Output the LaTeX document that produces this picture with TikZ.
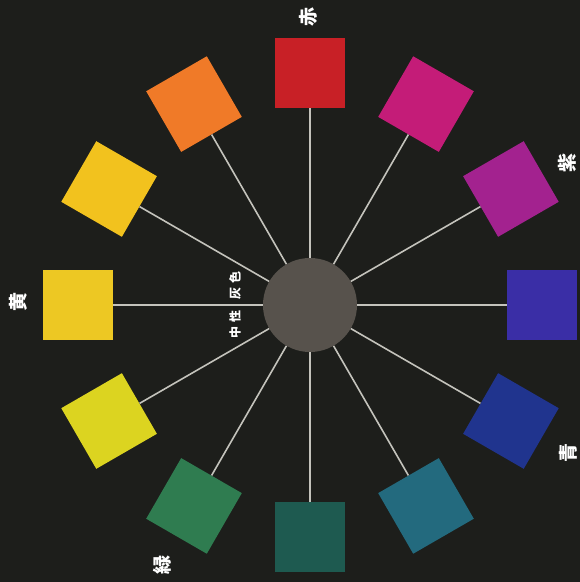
\documentclass[tikz,border=0pt]{standalone}
\usepackage{fontspec}
\newfontfamily\cjk{Noto Sans CJK JP}
\usetikzlibrary{positioning}

\definecolor{board}{HTML}{1D1E1B}
\definecolor{hubgray}{HTML}{57524C}
\definecolor{spokegray}{HTML}{C4C3BC}
\definecolor{cRed}{HTML}{C82026}
\definecolor{cMagenta}{HTML}{C41C78}
\definecolor{cPurple}{HTML}{A3228F}
\definecolor{cBlue}{HTML}{3A2EA6}
\definecolor{cNavy}{HTML}{20348E}
\definecolor{cTeal}{HTML}{236A7E}
\definecolor{cPine}{HTML}{1E5A50}
\definecolor{cGreen}{HTML}{2F7C50}
\definecolor{cLime}{HTML}{DCD420}
\definecolor{cYellow}{HTML}{EDC823}
\definecolor{cGold}{HTML}{F2C21E}
\definecolor{cOrange}{HTML}{F07A28}

\begin{document}
\begin{tikzpicture}[
  x=1pt, y=1pt,
  hub/.style={circle, fill=hubgray, minimum size=94pt, inner sep=0pt},
  chip/.style={rectangle, minimum size=70pt, inner sep=0pt},
  spoke/.style={draw=spokegray, line width=1.6pt},
  hue/.style={font=\cjk\bfseries\fontsize{19}{19}\selectfont, text=white, rotate=90},
  note/.style={font=\cjk\bfseries\fontsize{12}{12}\selectfont, text=white, rotate=90}
]
  % board
  \fill[board] (-310,-277) rectangle (270,305);
  \useasboundingbox (-310,-277) rectangle (270,305);

  % neutral grey hub
  \node[hub] (hub) at (0,0) {};

  % twelve colour chips and their spokes
  \foreach \ang/\col [count=\i] in {90/cRed, 60/cMagenta, 30/cPurple, 0/cBlue,
      -30/cNavy, -60/cTeal, -90/cPine, -120/cGreen, -150/cLime,
      180/cYellow, 150/cGold, 120/cOrange}{
    \node[chip, fill=\col, rotate=\ang] (sq\i) at (\ang:232) {};
    \draw[spoke] (hub) -- (sq\i);
  }

  % hue names
  \node[hue] (aka) at (-2,288) {赤};
  \node[hue] (murasaki) at (257,142) {紫};
  \node[hue] (ao) at (258,-148) {青};
  \node[hue] (midori) at (-148,-260) {緑};
  \node[hue] (ki) at (-292,3) {黄};

  \node[note] (neutral) at (-75,0) {中\hspace{4pt}性\hspace{11pt}灰\hspace{4pt}色};
\end{tikzpicture}
\end{document}
